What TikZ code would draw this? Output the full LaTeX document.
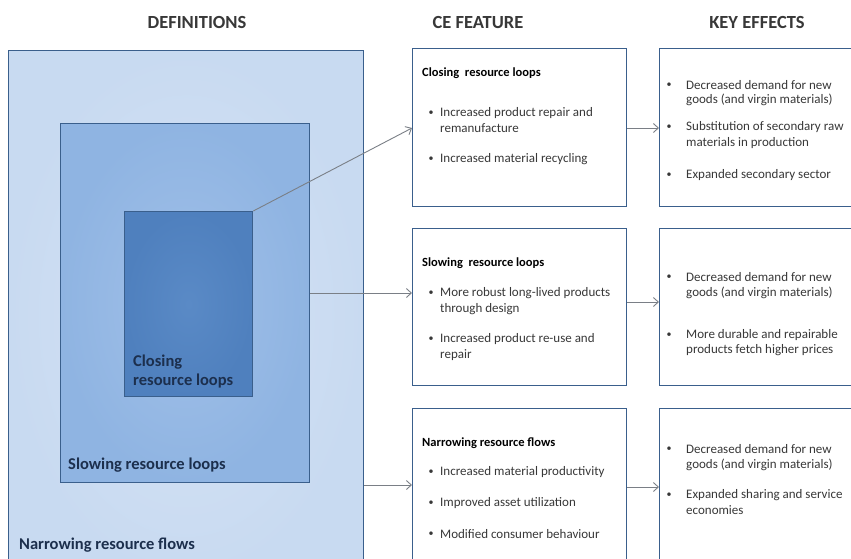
\documentclass[tikz,border=0pt]{standalone}
\usepackage{fontspec}
\setmainfont{Carlito}
\usetikzlibrary{arrows.meta}
\definecolor{frame}{HTML}{3A5F8C}
\definecolor{outerfill}{HTML}{C8DAF1}
\definecolor{outerin}{HTML}{D6E3F4}
\definecolor{midfill}{HTML}{8FB4E2}
\definecolor{midin}{HTML}{A1C0E8}
\definecolor{innfill}{HTML}{4F80BE}
\definecolor{innin}{HTML}{5A8AC6}
\definecolor{lbl}{HTML}{1C2F4D}
\definecolor{arr}{HTML}{7A7F86}
\definecolor{txt}{HTML}{383838}
\tikzset{
  defbox/.style={draw=frame, line width=1.3pt, anchor=north west, inner sep=0pt},
  infobox/.style={draw=frame, line width=1.1pt, fill=white, anchor=north west, inner sep=0pt},
  head/.style={font=\fontsize{18.5}{22}\selectfont\bfseries, text=txt, anchor=center, inner sep=0pt},
  deflbl/.style={font=\fontsize{16.5}{19}\selectfont\bfseries, text=lbl, anchor=west, inner sep=0pt},
  ttl/.style={font=\fontsize{12.5}{14}\selectfont\bfseries, text=black, anchor=west, inner sep=0pt},
  ln/.style={font=\fontsize{13}{15}\selectfont, text=txt, anchor=west, inner sep=0pt},
  bul/.style={font=\fontsize{10}{12}\selectfont, text=txt, anchor=center, inner sep=0pt},
  conn/.style={draw=arr, line width=0.9pt, -{Straight Barb[length=5pt,width=9pt]}}
}
\begin{document}
\begin{tikzpicture}[x=1pt,y=-1pt]
\useasboundingbox (0,0) rectangle (851,558);
\clip (0,0) rectangle (851,558);
\fill[white] (0,0) rectangle (851,558);
% headers
\node[head] (h1) at (197,22) {DEFINITIONS};
\node[head] (h2) at (478,22) {CE FEATURE};
\node[head] (h3) at (757,22) {KEY EFFECTS};
% definitions
\node[defbox, inner color=outerin, outer color=outerfill, minimum width=355pt, minimum height=530pt] (outer) at (8,50) {};
\node[defbox, inner color=midin, outer color=midfill, minimum width=249pt, minimum height=359pt] (mid) at (60,123) {};
\node[defbox, inner color=innin, outer color=innfill, minimum width=128pt, minimum height=185pt] (inn) at (124,211) {};
\node[deflbl] (l1a) at (133,362) {Closing};
\node[deflbl] (l1b) at (133,381) {resource loops};
\node[deflbl] (l2) at (68,465) {Slowing resource loops};
\node[deflbl] (l3) at (19,545) {Narrowing resource flows};
% CE feature boxes
\node[infobox, minimum width=214pt, minimum height=158pt] (ce1) at (412,48) {};
\node[infobox, minimum width=214pt, minimum height=157pt] (ce2) at (412,228) {};
\node[infobox, minimum width=214pt, minimum height=170pt] (ce3) at (412,408) {};
% key effect boxes
\node[infobox, minimum width=214pt, minimum height=158pt] (ke1) at (659,48) {};
\node[infobox, minimum width=214pt, minimum height=157pt] (ke2) at (659,228) {};
\node[infobox, minimum width=214pt, minimum height=170pt] (ke3) at (659,408) {};
% CE 1
\node[ttl] (t1) at (422,73) {Closing\ \ resource loops};
\node[bul] (b11) at (431,113) {•};
\node[ln] (c11a) at (440,113) {Increased product repair and};
\node[ln] (c11b) at (440,128) {remanufacture};
\node[bul] (b12) at (431,159) {•};
\node[ln] (c12) at (440,159) {Increased material recycling};
% CE 2
\node[ttl] (t2) at (422,263) {Slowing\ \ resource loops};
\node[bul] (b21) at (431,293) {•};
\node[ln] (c21a) at (440,293) {More\ robust long-lived products};
\node[ln] (c21b) at (440,309) {through design};
\node[bul] (b22) at (431,339) {•};
\node[ln] (c22a) at (440,339) {Increased product re-use and};
\node[ln] (c22b) at (440,355) {repair};
% CE 3
\node[ttl] (t3) at (422,443) {Narrowing resource flows};
\node[bul] (b31) at (431,472) {•};
\node[ln] (c31) at (440,472) {Increased material productivity};
\node[bul] (b32) at (431,503) {•};
\node[ln] (c32) at (440,503) {Improved asset utilization};
\node[bul] (b33) at (431,534) {•};
\node[ln] (c33) at (440,534) {Modified consumer behaviour};
% KE 1
\node[bul] (k11) at (669,85) {•};
\node[ln] (e11a) at (686,85) {Decreased demand for new};
\node[ln] (e11b) at (686,100) {goods (and virgin materials)};
\node[bul] (k12) at (669,127) {•};
\node[ln] (e12a) at (686,127) {Substitution of secondary raw};
\node[ln] (e12b) at (686,143) {materials in production};
\node[bul] (k13) at (669,175) {•};
\node[ln] (e13) at (686,175) {Expanded secondary sector};
% KE 2
\node[bul] (k21) at (669,277) {•};
\node[ln] (e21a) at (686,277) {Decreased demand for new};
\node[ln] (e21b) at (686,293) {goods (and virgin materials)};
\node[bul] (k22) at (669,335) {•};
\node[ln] (e22a) at (686,335) {More durable and repairable};
\node[ln] (e22b) at (686,350) {products fetch\ higher prices};
% KE 3
\node[bul] (k31) at (669,449) {•};
\node[ln] (e31a) at (686,449) {Decreased demand for new};
\node[ln] (e31b) at (686,465) {goods (and virgin materials)};
\node[bul] (k32) at (669,495) {•};
\node[ln] (e32a) at (686,495) {Expanded sharing and service};
\node[ln] (e32b) at (686,510) {economies};
% connector levels
\coordinate (y1) at (0,128);
\coordinate (y2) at (0,293);
\coordinate (y3) at (0,485);
\coordinate (z2) at (0,302);
\coordinate (z3) at (0,487);
% connectors
\draw[conn] (inn.north east) -- (ce1.west |- y1);
\draw[conn] (mid.east |- y2) -- (ce2.west |- y2);
\draw[conn] (outer.east |- y3) -- (ce3.west |- y3);
\draw[conn] (ce1.east |- y1) -- (ke1.west |- y1);
\draw[conn] (ce2.east |- z2) -- (ke2.west |- z2);
\draw[conn] (ce3.east |- z3) -- (ke3.west |- z3);
\end{tikzpicture}
\end{document}
